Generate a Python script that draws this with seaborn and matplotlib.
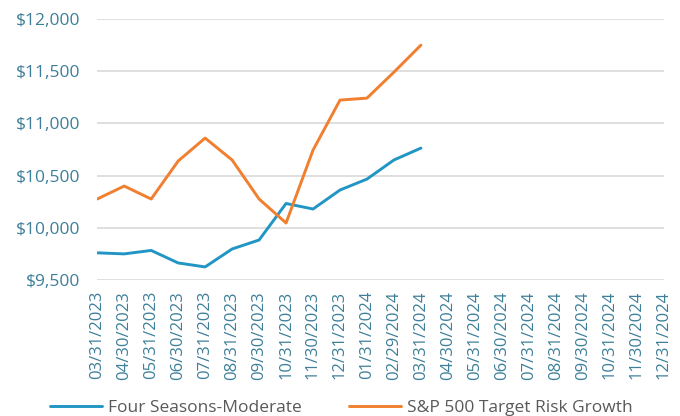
import matplotlib
matplotlib.use("Agg")
import matplotlib.pyplot as plt
import seaborn as sns
import pandas as pd
import numpy as np

# Month-end dates shown on the x axis
dates = ["03/31/2023", "04/30/2023", "05/31/2023", "06/30/2023", "07/31/2023",
         "08/31/2023", "09/30/2023", "10/31/2023", "11/30/2023", "12/31/2023",
         "01/31/2024", "02/29/2024", "03/31/2024", "04/30/2024", "05/31/2024",
         "06/30/2024", "07/31/2024", "08/31/2024", "09/30/2024", "10/31/2024",
         "11/30/2024", "12/31/2024"]

# Growth of $10,000 (values available through 03/31/2024)
four_seasons = [9760, 9750, 9783, 9663, 9625, 9797, 9883, 10233, 10180,
                10362, 10467, 10650, 10764]
sp500_trg = [10276, 10400, 10276, 10640, 10860, 10650, 10276, 10046, 10745,
             11224, 11243, 11492, 11751]

series_names = ["Four Seasons-Moderate", "S&P 500 Target Risk Growth"]
colors = {"Four Seasons-Moderate": "#2196c4", "S&P 500 Target Risk Growth": "#f07f2f"}
text_color = "#3d7f99"

# Build long-format table
df = pd.concat([
    pd.DataFrame({"idx": np.arange(len(four_seasons)), "value": four_seasons, "series": series_names[0]}),
    pd.DataFrame({"idx": np.arange(len(sp500_trg)), "value": sp500_trg, "series": series_names[1]}),
])

sns.set_style("white")
plt.rcParams["font.family"] = ["Open Sans", "DejaVu Sans"]

fig = plt.figure(figsize = (6.8, 4.16), dpi = 100)
ax = fig.add_axes([0.143, 0.327, 0.833, 0.627])

sns.lineplot(data = df, x = "idx", y = "value", hue = "series", palette = colors,
             linewidth = 2.1, ax = ax, legend = False)

# Axes formatting
ax.set_xlim(0, len(dates) - 1)
ax.set_ylim(9500, 12000)
ax.set_xticks(np.arange(len(dates)))
ax.set_xticklabels(dates, rotation = 90, fontsize = 12, color = text_color)
yticks = np.arange(9500, 12001, 500)
ax.set_yticks(yticks)
ax.set_yticklabels([f"${v:,.0f}" for v in yticks], fontsize = 12.5, color = text_color)
ax.tick_params(axis = "x", length = 0, pad = 8)
ax.tick_params(axis = "y", length = 0, pad = 12)
ax.set_xlabel("")
ax.set_ylabel("")
ax.grid(axis = "y", color = "#d9d9d9", linewidth = 1.2)
ax.set_axisbelow(True)
sns.despine(ax = ax, left = True, bottom = True)

# Legend at the bottom
handles = [plt.Line2D([], [], color = colors[n], linewidth = 2.1) for n in series_names]
fig.legend(handles, series_names, loc = "center", ncol = 2, frameon = False,
           fontsize = 12.5, bbox_to_anchor = (0.502, 0.02), handlelength = 3.0,
           handletextpad = 0.35, columnspacing = 2.75, labelcolor = "#595959")

fig.savefig("out.png", dpi = 100)
